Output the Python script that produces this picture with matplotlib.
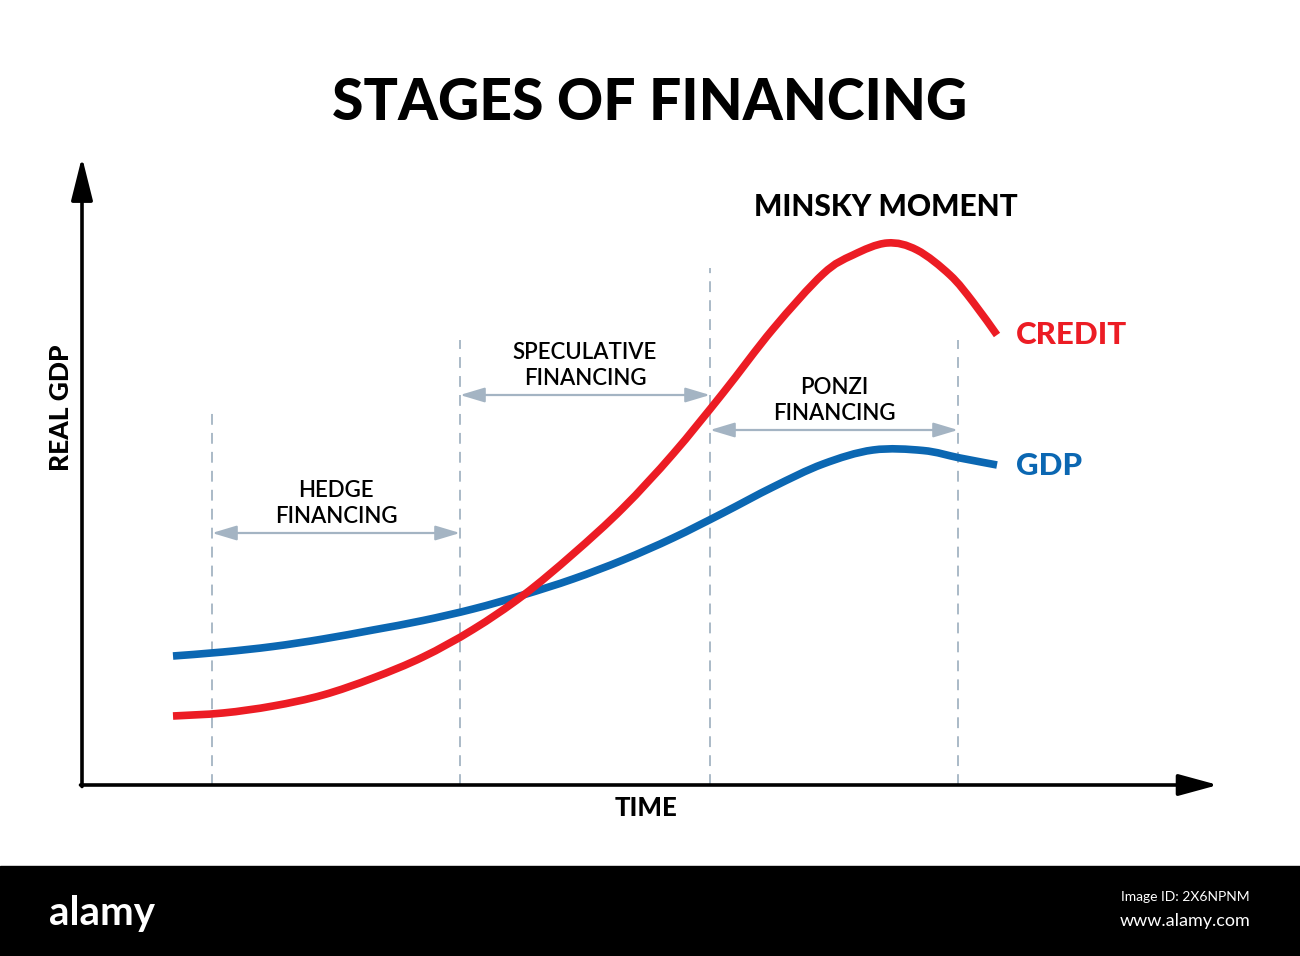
import matplotlib
matplotlib.use("Agg")
import matplotlib.pyplot as plt
import numpy as np
from matplotlib.patches import Rectangle, PathPatch
from matplotlib.path import Path

# ---------------- data (time units, value units) ----------------
credit_time = [91, 141, 191, 241, 291, 341, 391, 441, 491, 541, 591, 641,
               691, 741, 771, 805, 835, 868, 891, 915]
credit_value = [69, 72, 79, 90, 107, 128, 155.5, 189.5, 231, 277, 331, 392,
                456, 511, 530, 542, 535, 510, 483, 450]

gdp_time = [91, 141, 191, 241, 291, 341, 391, 441, 491, 541, 591, 641,
            691, 741, 791, 841, 878, 915]
gdp_value = [129, 133, 138.5, 146, 155, 164.5, 176, 190, 206, 225, 247, 272,
             298, 321, 335, 334.5, 327, 320]

stage_bounds = [130, 378, 628, 876]
stage_tops = [375, 445, 517, 445]
stage_names = ["HEDGE\nFINANCING", "SPECULATIVE\nFINANCING", "PONZI\nFINANCING"]
stage_arrow_level = [252, 390, 355]

RED = "#ec1c24"
BLUE = "#0b67b2"
GREY = "#a4b4c3"


def smooth_path(xs, ys):
    """Smooth Bezier path through the given points (Catmull-Rom tangents)."""
    p = np.column_stack([xs, ys]).astype(float)
    verts = [p[0]]
    codes = [Path.MOVETO]
    n = len(p)
    for i in range(n - 1):
        p0 = p[i - 1] if i > 0 else p[i]
        p1, p2 = p[i], p[i + 1]
        p3 = p[i + 2] if i + 2 < n else p[i + 1]
        c1 = p1 + (p2 - p0) / 6.0
        c2 = p2 - (p3 - p1) / 6.0
        verts += [c1, c2, p2]
        codes += [Path.CURVE4] * 3
    return Path(verts, codes)


fig = plt.figure(figsize=(13, 9.56), dpi=100)
ax = fig.add_axes([0, 0, 1, 1])
ax.set_xlim(-82, 1218)
ax.set_ylim(-171, 785)
ax.axis("off")

FONT = ["Lato", "DejaVu Sans"]

# title
ax.text(568, 682, "STAGES OF FINANCING", ha="center", va="center",
        fontsize=41, fontweight="black", family=FONT, color="black")

# axes arrows
ax.annotate("", xy=(0, 628), xytext=(0, -1.5),
            arrowprops=dict(arrowstyle="-|>,head_length=1.2,head_width=0.3",
                            mutation_scale=22, lw=2.6, color="black",
                            shrinkA=0, shrinkB=0))
ax.annotate("", xy=(1136, 0), xytext=(-1.5, 0),
            arrowprops=dict(arrowstyle="-|>,head_length=1.1,head_width=0.3",
                            mutation_scale=22, lw=2.6, color="black",
                            shrinkA=0, shrinkB=0))

ax.text(-21, 377, "REAL GDP", rotation=90, ha="center", va="center",
        fontsize=19, fontweight="black", family=FONT)
ax.text(564, -23, "TIME", ha="center", va="center",
        fontsize=18.5, fontweight="black", family=FONT)

# stage dashed lines
for t, top in zip(stage_bounds, stage_tops):
    ax.plot([t, t], [0, top], color=GREY, lw=1.3, ls=(0, (6, 4.5)), zorder=1)

# stage arrows and labels
for i, name in enumerate(stage_names):
    a, b = stage_bounds[i], stage_bounds[i + 1]
    lvl = stage_arrow_level[i]
    ax.annotate("", xy=(b, lvl), xytext=(a, lvl),
                arrowprops=dict(arrowstyle="<|-|>,head_length=1.0,head_width=0.3",
                                mutation_scale=15, lw=1.6, color=GREY,
                                shrinkA=0, shrinkB=0), zorder=1)
    ax.text((a + b) / 2, lvl + 6, name, ha="center", va="bottom",
            fontsize=16, fontweight="semibold", family=FONT, linespacing=1.3)

# curves
ax.add_patch(PathPatch(smooth_path(gdp_time, gdp_value), facecolor="none",
                       edgecolor=BLUE, lw=5.5, capstyle="butt", zorder=3))
ax.add_patch(PathPatch(smooth_path(credit_time, credit_value), facecolor="none",
                       edgecolor=RED, lw=5.5, capstyle="butt", zorder=4))

ax.text(934, 450, "CREDIT", ha="left", va="center", fontsize=22.5,
        fontweight="black", family=FONT, color=RED)
ax.text(934, 319, "GDP", ha="left", va="center", fontsize=22.5,
        fontweight="black", family=FONT, color=BLUE)
ax.text(804, 578, "MINSKY MOMENT", ha="center", va="center", fontsize=21.5,
        fontweight="black", family=FONT, color="black")

# footer band
ax.add_patch(Rectangle((-82, -171), 1300, 90, color="black", zorder=5))
ax.text(-33, -128, "alamy", ha="left", va="center", color="white",
        fontsize=29, fontweight="bold", zorder=6, family=FONT)
ax.text(1168, -112, "Image ID: 2X6NPNM", ha="right", va="center", color="white",
        fontsize=10, zorder=6, family=FONT)
ax.text(1168, -136, "www.alamy.com", ha="right", va="center", color="white",
        fontsize=13, zorder=6, family=FONT)

fig.savefig("out.png", dpi=100, facecolor="white")
